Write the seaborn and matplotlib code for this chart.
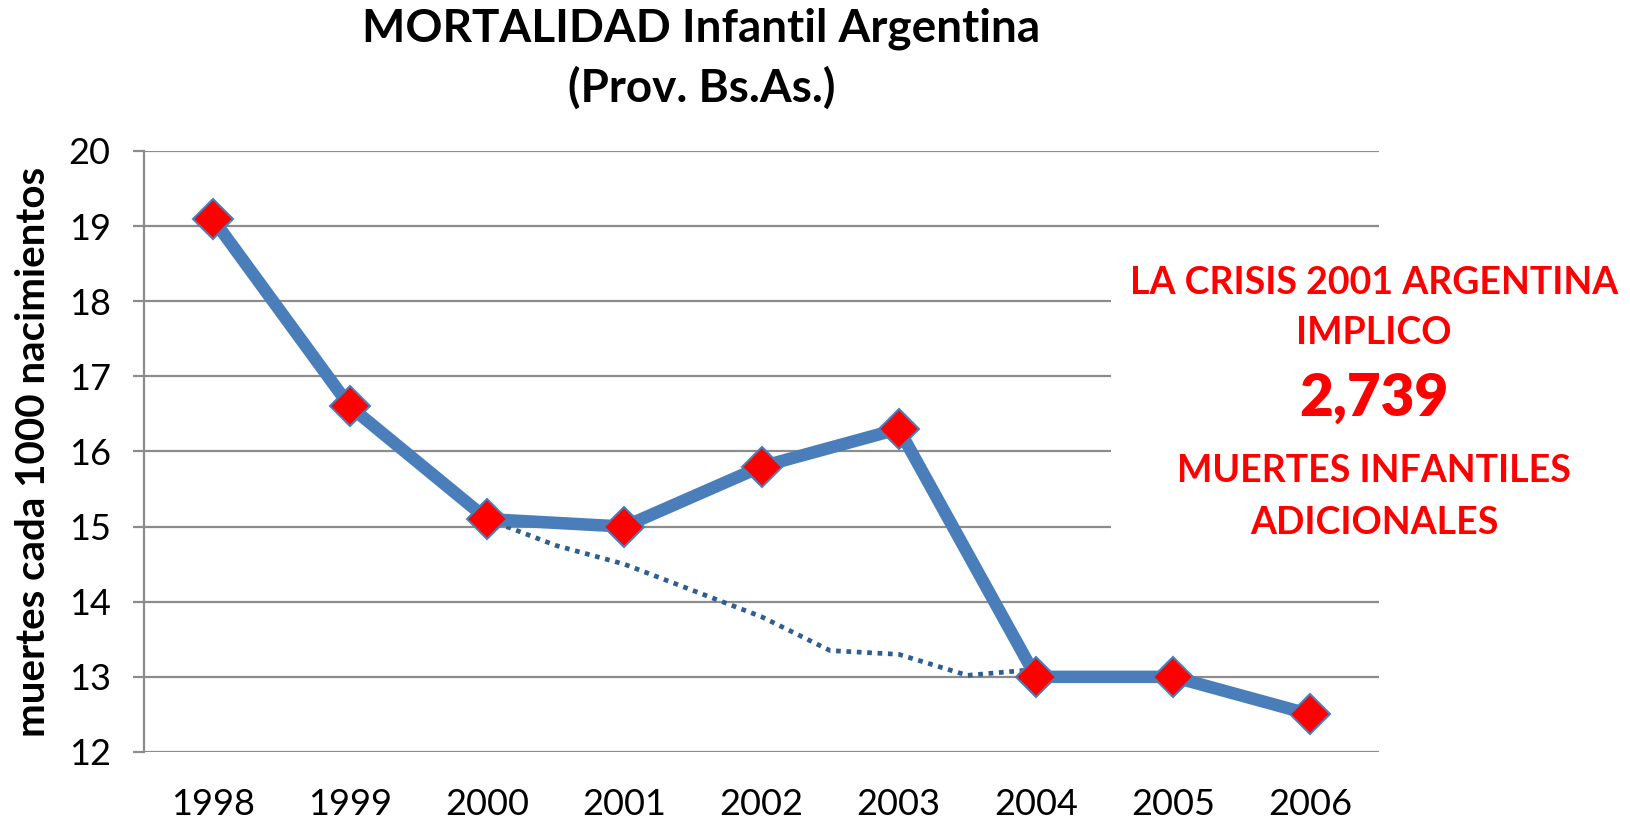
import matplotlib
matplotlib.use("Agg")
import matplotlib.pyplot as plt
import seaborn as sns
import pandas as pd
from matplotlib.patches import Rectangle

years = [1998, 1999, 2000, 2001, 2002, 2003, 2004, 2005, 2006]
mortality = [19.1, 16.6, 15.1, 15.0, 15.8, 16.3, 13.0, 13.0, 12.5]

trend_x = [2000, 2000.5, 2001, 2001.5, 2002, 2002.5, 2003, 2003.5, 2004]
trend_y = [15.1, 14.75, 14.5, 14.15, 13.8, 13.35, 13.3, 13.02, 13.1]

yticks = [12, 13, 14, 15, 16, 17, 18, 19, 20]

sns.set_theme(style="white")
plt.rcParams['font.family'] = ['Lato', 'DejaVu Sans']
plt.rcParams['text.color'] = 'black'
plt.rcParams['xtick.color'] = 'black'
plt.rcParams['ytick.color'] = 'black'
plt.rcParams['axes.labelcolor'] = 'black'

fig = plt.figure(figsize=(16.31, 8.25), dpi=100)
ax = fig.add_axes([0.0883, 0.0885, 0.8455 - 0.0883, 0.817 - 0.0885])

for y in yticks:
    ax.axhline(y, color="#8c8c8c", lw=1.6, zorder=0)

df_trend = pd.DataFrame({"x": trend_x, "y": trend_y})
sns.lineplot(data=df_trend, x="x", y="y", ax=ax, color="#2f5f8f", lw=3.4,
             linestyle=(0, (1, 1.2)), zorder=2)

df = pd.DataFrame({"year": years, "val": mortality})
sns.lineplot(data=df, x="year", y="val", ax=ax, color="#4a7ebb", lw=9,
             marker="D", markersize=20, markerfacecolor="#ff0000",
             markeredgecolor="#4a7ebb", markeredgewidth=1.5, zorder=3)

ax.set_xlim(1997.5, 2006.5)
ax.set_ylim(12, 20)
ax.set_xticks(years)
ax.set_xticklabels([str(y) for y in years])
ax.set_yticks(yticks)
ax.tick_params(axis="x", length=0, labelsize=26, pad=26, labelcolor="black")
ax.tick_params(axis="y", length=8, width=1.6, color="#8c8c8c", labelsize=26,
               pad=16, left=True, labelcolor="black")
for s in ["top", "right", "bottom"]:
    ax.spines[s].set_visible(False)
ax.spines["left"].set_color("#8c8c8c")
ax.spines["left"].set_linewidth(1.6)
ax.set_xlabel("")
ax.set_ylabel("muertes cada 1000 nacimientos", fontsize=29, fontweight="bold",
              labelpad=12, color="black")

tx = 0.430
fig.text(tx, 0.965, "MORTALIDAD Infantil Argentina", ha="center", va="center",
         fontsize=33, fontweight="bold", color="black")
fig.text(tx, 0.893, "(Prov. Bs.As.)", ha="center", va="center",
         fontsize=33, fontweight="bold", color="black")

# white box behind annotation
fig.patches.append(Rectangle((1111 / 1631, 1 - 540 / 825), 1 - 1111 / 1631, (540 - 265) / 825,
                             transform=fig.transFigure, facecolor="white",
                             edgecolor="none", zorder=5))

red = "#ff0000"
cx = 1374 / 1631
fig.text(cx, 1 - 283 / 825, "LA CRISIS 2001 ARGENTINA", ha="center", va="center",
         fontsize=27, fontweight="bold", color=red, zorder=6)
fig.text(cx, 1 - 333 / 825, "IMPLICO", ha="center", va="center",
         fontsize=27, fontweight="bold", color=red, zorder=6)
fig.text(cx, 1 - 398 / 825, "2,739", ha="center", va="center",
         fontsize=42, fontweight="heavy", color=red, zorder=6)
fig.text(cx, 1 - 471 / 825, "MUERTES INFANTILES", ha="center", va="center",
         fontsize=27, fontweight="bold", color=red, zorder=6)
fig.text(cx, 1 - 523 / 825, "ADICIONALES", ha="center", va="center",
         fontsize=27, fontweight="bold", color=red, zorder=6)

fig.savefig("out.png", dpi=100, facecolor="white")
